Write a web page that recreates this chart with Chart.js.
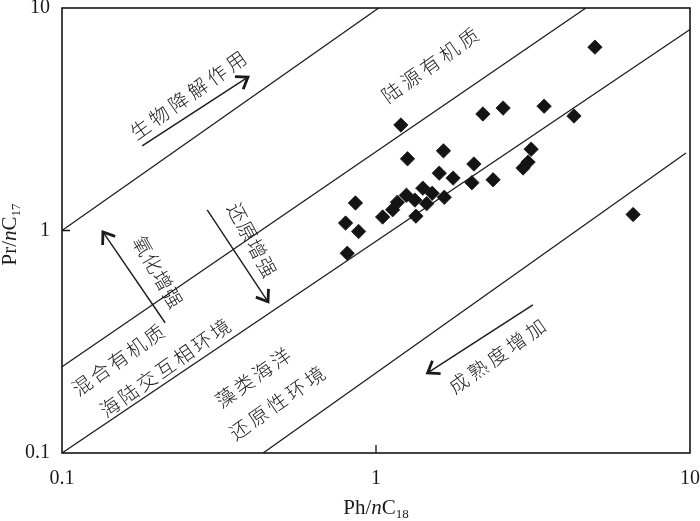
<!DOCTYPE html>
<html><head><meta charset="utf-8">
<script src="https://cdn.jsdelivr.net/npm/chart.js@4/dist/chart.umd.min.js"></script>
<style>html,body{margin:0;padding:0;background:#fff;}</style>
</head><body>
<canvas id="c" width="700" height="521" style="width:700px;height:521px;display:block"></canvas>
<script>
// ---- data ----
const phC18 = [4.98, 1.20, 2.19, 2.54, 3.43, 4.27, 1.26, 1.64, 2.05, 3.12, 3.05, 2.94, 1.59, 1.76, 2.02, 2.36,
               0.86, 0.80, 0.88, 0.81, 1.05, 1.34, 1.13, 1.17, 1.25, 1.41, 1.51, 1.45, 1.65, 6.59, 1.33];
const prC17 = [6.67, 2.98, 3.34, 3.55, 3.62, 3.27, 2.10, 2.28, 1.99, 2.32, 2.03, 1.91, 1.81, 1.72, 1.64, 1.69,
               1.33, 1.08, 0.99, 0.79, 1.15, 1.16, 1.24, 1.34, 1.44, 1.55, 1.47, 1.32, 1.41, 1.18, 1.37];
const tickValues = [0.1, 1, 10];
const tickLabels = ['0.1', '1', '10'];
// boundary lines (x pairs, y pairs)
const boundX1 = [0.1, 1.02],  boundY1 = [1, 10];
const boundX2 = [0.1, 4.66],  boundY2 = [0.244, 10];
const boundX3 = [0.1, 10],    boundY3 = [0.1, 8.0];
const boundX4 = [0.437, 9.71], boundY4 = [0.1, 2.23];
// arrows: [fromX, fromY, toX, toY]
const arrowBio    = [0.180, 2.40, 0.391, 4.89];
const arrowOxid   = [0.213, 0.385, 0.135, 0.985];
const arrowRed    = [0.290, 1.237, 0.453, 0.478];
const arrowMature = [3.16, 0.463, 1.46, 0.229];
// region labels
const labelTexts = ['生物降解作用', '陆源有机质', '还原增强', '氧化增强', '混合有机质', '海陆交互相环境', '藻类海洋', '还原性环境', '成熟度增加'];
const labelX = [0.252, 1.486, 0.403, 0.202, 0.151, 0.213, 0.406, 0.484, 2.43];
const labelY = [4.06, 5.54, 0.907, 0.652, 0.262, 0.2415, 0.218, 0.168, 0.273];

const toPts = (xs, ys) => xs.map((x, i) => ({x, y: ys[i]}));
const lineDS = (xs, ys) => ({type: 'line', data: toPts(xs, ys), borderColor: '#1e1e1e', borderWidth: 1.3,
  pointRadius: 0, fill: false, tension: 0, order: 2});

const LINE_ANGLE = -35.3 * Math.PI / 180;
const labelAngles = [LINE_ANGLE, LINE_ANGLE, 62 * Math.PI / 180, 60 * Math.PI / 180, LINE_ANGLE, LINE_ANGLE, LINE_ANGLE, LINE_ANGLE, LINE_ANGLE];
const labelStep = [23.5, 23.5, 20.5, 20, 22, 22.5, 22.5, 23, 23.5];

const CJK = '300 19.5px "Noto Sans CJK SC", "Noto Sans CJK JP", sans-serif';
const SERIF = '"Liberation Serif", "DejaVu Serif", serif';

const decor = {
  id: 'decor',
  afterDatasetsDraw(chart) {
    const {ctx, chartArea: a, scales: {x, y}} = chart;
    ctx.save();
    // arrows
    const drawArrow = (arr) => {
      const x0 = x.getPixelForValue(arr[0]), y0 = y.getPixelForValue(arr[1]);
      const x1 = x.getPixelForValue(arr[2]), y1 = y.getPixelForValue(arr[3]);
      ctx.strokeStyle = '#1a1a1a';
      ctx.lineWidth = 1.4;
      ctx.beginPath(); ctx.moveTo(x0, y0); ctx.lineTo(x1, y1); ctx.stroke();
      const ang = Math.atan2(y1 - y0, x1 - x0), L = 13, h = 0.62;
      ctx.lineWidth = 2.8; ctx.lineCap = 'butt'; ctx.lineJoin = 'miter';
      ctx.beginPath();
      ctx.moveTo(x1 - L * Math.cos(ang - h), y1 - L * Math.sin(ang - h));
      ctx.lineTo(x1, y1);
      ctx.lineTo(x1 - L * Math.cos(ang + h), y1 - L * Math.sin(ang + h));
      ctx.stroke();
    };
    [arrowBio, arrowOxid, arrowRed, arrowMature].forEach(drawArrow);
    // labels
    ctx.fillStyle = '#222';
    ctx.font = CJK;
    ctx.textAlign = 'center'; ctx.textBaseline = 'middle';
    labelTexts.forEach((t, k) => {
      const cx = x.getPixelForValue(labelX[k]), cy = y.getPixelForValue(labelY[k]);
      const chars = Array.from(t), n = chars.length, s = labelStep[k], ang = labelAngles[k];
      chars.forEach((ch, i) => {
        const d = (i - (n - 1) / 2) * s;
        ctx.save();
        ctx.translate(cx + d * Math.cos(ang), cy + d * Math.sin(ang));
        ctx.rotate(ang);
        ctx.fillText(ch, 0, 0);
        ctx.restore();
      });
    });
    // frame
    ctx.strokeStyle = '#151515'; ctx.lineWidth = 1.6;
    ctx.strokeRect(a.left, a.top, a.right - a.left, a.bottom - a.top);
    // inward ticks at 1
    ctx.lineWidth = 1.3;
    const px1 = x.getPixelForValue(1), py1 = y.getPixelForValue(1);
    ctx.beginPath();
    ctx.moveTo(px1, a.bottom); ctx.lineTo(px1, a.bottom - 8);
    ctx.moveTo(a.left, py1); ctx.lineTo(a.left + 8, py1);
    ctx.stroke();
    // axis titles with italic n and subscripts
    const drawTitle = (parts, cx, cy, rot) => {
      ctx.save();
      ctx.translate(cx, cy); ctx.rotate(rot);
      ctx.textAlign = 'left'; ctx.textBaseline = 'alphabetic'; ctx.fillStyle = '#1a1a1a';
      let w = 0;
      parts.forEach(p => { ctx.font = p[1]; w += ctx.measureText(p[0]).width; });
      let px = -w / 2;
      parts.forEach(p => { ctx.font = p[1]; ctx.fillText(p[0], px, p[2]); px += ctx.measureText(p[0]).width; });
      ctx.restore();
    };
    const big = '21px ' + SERIF, ital = 'italic 21px ' + SERIF, small = '13px ' + SERIF;
    drawTitle([['Ph/', big, 0], ['n', ital, 0], ['C', big, 0], ['18', small, 4]], (a.left + a.right) / 2, 514, 0);
    drawTitle([['Pr/', big, 0], ['n', ital, 0], ['C', big, 0], ['17', small, 4]], 16, (a.top + a.bottom) / 2 + 4, -Math.PI / 2);
    ctx.restore();
  }
};

const logAxis = (extra) => Object.assign({
  type: 'logarithmic', min: 0.1, max: 10,
  afterBuildTicks: (s) => { s.ticks = tickValues.map(v => ({value: v})); },
  grid: {display: false, drawTicks: false},
  border: {display: false},
  ticks: {
    autoSkip: false, maxRotation: 0,
    color: '#1a1a1a', font: {family: SERIF, size: 20},
    callback: (v) => { const i = tickValues.indexOf(v); return i >= 0 ? tickLabels[i] : ''; }
  }
}, extra);

new Chart(document.getElementById('c'), {
  type: 'scatter',
  data: {
    datasets: [
      {data: toPts(phC18, prC17), pointStyle: 'rectRot', pointRadius: 7.2, pointHoverRadius: 7.2,
       backgroundColor: '#141414', borderColor: '#141414', borderWidth: 0.8, order: 1},
      lineDS(boundX1, boundY1), lineDS(boundX2, boundY2), lineDS(boundX3, boundY3), lineDS(boundX4, boundY4)
    ]
  },
  options: {
    responsive: false, animation: false, devicePixelRatio: 1,
    layout: {padding: {top: 8, right: 10, left: 0, bottom: 0}},
    plugins: {legend: {display: false}, tooltip: {enabled: false}, title: {display: false}},
    scales: {
      x: logAxis({position: 'bottom', ticks: Object.assign({}, logAxis().ticks, {padding: 14}),
        afterFit: (s) => { s.height = 68; s.paddingLeft = 0; s.paddingRight = 0; }}),
      y: logAxis({position: 'left', ticks: Object.assign({}, logAxis().ticks, {padding: 12}),
        afterFit: (s) => { s.width = 62; s.paddingTop = 0; s.paddingBottom = 0; }})
    }
  },
  plugins: [decor]
});
</script>
</body></html>
